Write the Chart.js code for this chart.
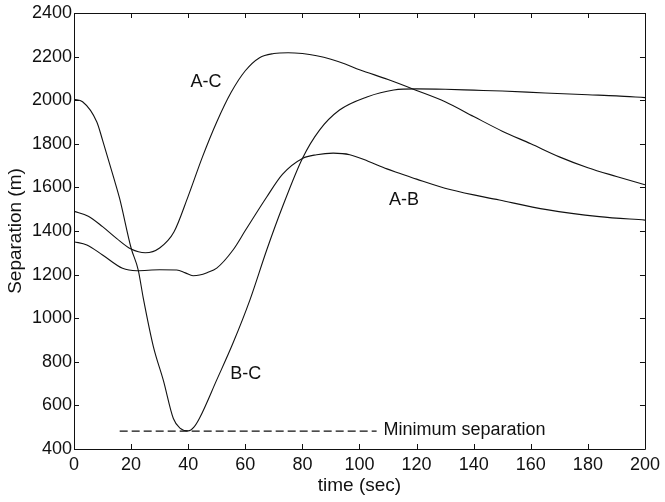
<!DOCTYPE html>
<html lang="en">
<head>
  <meta charset="UTF-8">
  <title>Separation vs time</title>
  <style>
    body {
      margin: 0;
      padding: 0;
      background: #ffffff;
    }
    #wrap {
      width: 665px;
      height: 502px;
    }
  </style>
</head>
<body>
  <div id="wrap">
    <canvas id="sepChart" width="665" height="502"></canvas>
  </div>

  <script src="https://cdn.jsdelivr.net/npm/chart.js"></script>
  <script>
    // values
    var acTime = [0, 5, 10, 15, 20, 25, 30, 35, 40, 45, 50, 55, 60, 65, 70, 75, 80, 85, 90, 95, 100, 110, 120, 130, 140, 150, 160, 170, 180, 190, 200];
    var acSep  = [1490, 1468, 1420, 1365, 1317, 1300, 1322, 1395, 1560, 1740, 1900, 2035, 2135, 2195, 2214, 2218, 2214, 2204, 2188, 2166, 2140, 2095, 2045, 1993, 1925, 1858, 1800, 1740, 1690, 1650, 1612];

    var bcTime = [0, 3, 8, 10, 14, 16, 20, 22.5, 24.3, 27.8, 31.3, 34.8, 37.1, 40, 42, 44, 50, 55.7, 61.6, 67.5, 73, 80, 86, 93, 102.6, 112, 120, 130, 140, 150, 165, 180, 190, 200];
    var bcSep  = [2004, 1993, 1900, 1817, 1640, 1548, 1322, 1221, 1090, 870, 715, 540, 496, 483, 500, 542, 717, 886, 1083, 1313, 1510, 1733, 1863, 1955, 2015, 2047, 2052, 2050, 2046, 2042, 2033, 2025, 2020, 2012];

    var abTime = [0, 4.5, 10, 17, 22, 30, 36, 39, 41.7, 44, 46.6, 50, 55.7, 60, 67.5, 73, 80, 85, 90.8, 96.6, 103, 109.6, 114, 120, 131.7, 149, 165.6, 184, 200];
    var abSep  = [1351, 1336, 1290, 1229, 1218, 1222, 1221, 1208, 1195, 1198, 1209, 1230, 1313, 1402, 1556, 1660, 1733, 1750, 1757, 1750, 1720, 1685, 1665, 1638, 1590, 1542, 1498, 1466, 1450];

    var minSepTime = [16, 106];
    var minSepValue = [482, 482];

    var xTicks = [0, 20, 40, 60, 80, 100, 120, 140, 160, 180, 200];
    var yTicks = [400, 600, 800, 1000, 1200, 1400, 1600, 1800, 2000, 2200, 2400];

    // curve labels, placed in data coordinates
    var curveLabels = [
      { text: 'A-C', t: 46.2, v: 2084, align: 'center' },
      { text: 'A-B', t: 115.6, v: 1542, align: 'center' },
      { text: 'B-C', t: 60.2, v: 742, align: 'center' },
      { text: 'Minimum separation', t: 108.4, v: 487, align: 'left' }
    ];

    function toPoints(xs, ys) {
      return xs.map(function (x, i) { return { x: x, y: ys[i] }; });
    }

    var FONT = 'Liberation Sans, Arial, sans-serif';
    var INK = '#111111';

    // box round the plot with inward ticks, matlab style
    var framePlugin = {
      id: 'frame',
      afterDraw: function (chart) {
        var c = chart.ctx;
        var a = chart.chartArea;
        var xs = chart.scales.x;
        var ys = chart.scales.y;
        var len = 5;
        c.save();
        c.strokeStyle = INK;
        c.lineWidth = 1;
        c.beginPath();
        c.rect(Math.round(a.left) + 0.5, Math.round(a.top) + 0.5, Math.round(a.right - a.left), Math.round(a.bottom - a.top));
        xTicks.forEach(function (t) {
          var px = Math.round(xs.getPixelForValue(t)) + 0.5;
          c.moveTo(px, a.bottom);
          c.lineTo(px, a.bottom - len);
          c.moveTo(px, a.top);
          c.lineTo(px, a.top + len);
        });
        yTicks.forEach(function (v) {
          var py = Math.round(ys.getPixelForValue(v)) + 0.5;
          c.moveTo(a.left, py);
          c.lineTo(a.left + len, py);
          c.moveTo(a.right, py);
          c.lineTo(a.right - len, py);
        });
        c.stroke();
        c.restore();
      },
      afterDatasetsDraw: function (chart) {
        var c = chart.ctx;
        var xs = chart.scales.x;
        var ys = chart.scales.y;
        c.save();
        c.fillStyle = INK;
        c.font = '18px ' + FONT;
        c.textBaseline = 'middle';
        curveLabels.forEach(function (l) {
          c.textAlign = l.align;
          c.fillText(l.text, xs.getPixelForValue(l.t), ys.getPixelForValue(l.v));
        });
        c.restore();
      }
    };

    function lineSet(label, pts) {
      return {
        label: label,
        data: pts,
        borderColor: INK,
        borderWidth: 1.1,
        pointRadius: 0,
        fill: false,
        cubicInterpolationMode: 'monotone'
      };
    }

    var minSet = lineSet('Minimum separation', toPoints(minSepTime, minSepValue));
    minSet.borderDash = [8, 4];
    minSet.cubicInterpolationMode = 'default';
    minSet.tension = 0;

    var ctx = document.getElementById('sepChart').getContext('2d');
    var sepChart = new Chart(ctx, {
      type: 'line',
      data: {
        datasets: [
          lineSet('A-C', toPoints(acTime, acSep)),
          lineSet('B-C', toPoints(bcTime, bcSep)),
          lineSet('A-B', toPoints(abTime, abSep)),
          minSet
        ]
      },
      options: {
        responsive: false,
        animation: false,
        layout: { padding: { top: 13, right: 20, left: 0, bottom: 0 } },
        plugins: {
          legend: { display: false },
          tooltip: { enabled: false }
        },
        scales: {
          x: {
            type: 'linear',
            min: 0,
            max: 200,
            grid: { display: false, drawTicks: false },
            border: { display: false },
            afterBuildTicks: function (s) { s.ticks = xTicks.map(function (v) { return { value: v }; }); },
            afterFit: function (s) { s.height = 53; },
            ticks: { color: INK, padding: 5, maxRotation: 0, font: { family: FONT, size: 18 } },
            title: { display: true, text: 'time (sec)', color: INK, padding: { top: 0, bottom: 5 }, font: { family: FONT, size: 19 } }
          },
          y: {
            min: 400,
            max: 2400,
            grid: { display: false, drawTicks: false },
            border: { display: false },
            afterBuildTicks: function (s) { s.ticks = yTicks.map(function (v) { return { value: v }; }); },
            afterFit: function (s) { s.width = 74; },
            ticks: {
              color: INK,
              padding: 2,
              font: { family: FONT, size: 18 },
              callback: function (v) { return String(v); }
            },
            title: { display: true, text: 'Separation (m)', color: INK, padding: { top: 4, bottom: 0 }, font: { family: FONT, size: 19 } }
          }
        }
      },
      plugins: [framePlugin]
    });
  </script>
</body>
</html>
